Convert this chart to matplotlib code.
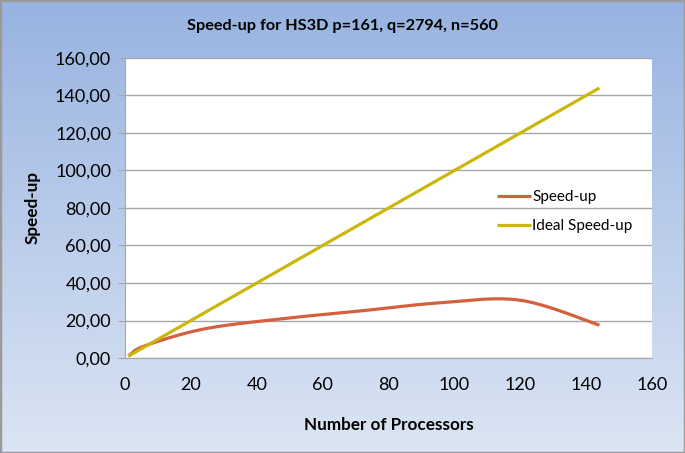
import numpy as np
import matplotlib
matplotlib.use('Agg')
import matplotlib.pyplot as plt
from matplotlib.colors import LinearSegmentedColormap

plt.rcParams['font.family'] = ['Lato', 'DejaVu Sans']

# data
processors = [1, 6, 24, 48, 72, 96, 120, 144]
speedup = [1.0, 6.5, 15.5, 21.0, 25.2, 29.5, 30.8, 17.5]
ideal = [1, 6, 24, 48, 72, 96, 120, 144]
yticks = [0, 20, 40, 60, 80, 100, 120, 140, 160]
xticks = [0, 20, 40, 60, 80, 100, 120, 140, 160]


def smooth(xs, ys, n=40):
    # excel-like smoothed line (catmull-rom as cubic bezier)
    p = np.column_stack([xs, ys]).astype(float)
    out = []
    for i in range(len(p) - 1):
        p0 = p[i - 1] if i > 0 else p[i]
        p1, p2 = p[i], p[i + 1]
        p3 = p[i + 2] if i + 2 < len(p) else p[i + 1]
        c1 = p1 + (p2 - p0) / 6.0
        c2 = p2 - (p3 - p1) / 6.0
        t = np.linspace(0, 1, n)[:, None]
        seg = ((1 - t) ** 3) * p1 + 3 * ((1 - t) ** 2) * t * c1 \
            + 3 * (1 - t) * t ** 2 * c2 + t ** 3 * p2
        out.append(seg if i == 0 else seg[1:])
    out = np.vstack(out)
    return out[:, 0], out[:, 1]


fig = plt.figure(figsize=(6.85, 4.53), dpi=100)

# gradient background
bg = fig.add_axes([0, 0, 1, 1], zorder=0)
cmap = LinearSegmentedColormap.from_list('bg', ['#98b3e1', '#dbe5f3'])
bg.imshow(np.linspace(0, 1, 256)[:, None], aspect='auto', cmap=cmap,
          extent=[0, 1, 0, 1])
bg.set_xlim(0, 1)
bg.set_ylim(0, 1)
for s in bg.spines.values():
    s.set_color('#9a9a9a')
    s.set_linewidth(2.5)
bg.set_xticks([])
bg.set_yticks([])

ax = fig.add_axes([0.1825, 0.2097, 0.952 - 0.1825, 0.872 - 0.2097], zorder=1)
ax.set_facecolor('white')

sx, sy = smooth(processors, speedup)
ax.plot(sx, sy, color='#d4603f', lw=2.3, label='Speed-up', solid_capstyle='butt')
ax.plot(ideal, ideal, color='#cab70a', lw=2.3, label='Ideal Speed-up',
        solid_capstyle='butt')

ax.set_xlim(0, 160)
ax.set_ylim(0, 160)
ax.set_xticks(xticks)
ax.set_yticks(yticks)
ax.set_yticklabels([('%.2f' % v).replace('.', ',') for v in yticks])
ax.grid(axis='y', color='#a6a6a6', lw=1)
ax.set_axisbelow(True)
for side in ['top', 'right']:
    ax.spines[side].set_visible(False)
ax.spines['left'].set_color('#a6a6a6')
ax.spines['bottom'].set_color('#a6a6a6')
ax.tick_params(axis='y', length=5, color='#a6a6a6', labelsize=13, pad=5)
ax.tick_params(axis='x', length=0, labelsize=13, pad=14)

ax.set_xlabel('Number of Processors', fontsize=12.3, fontweight='bold', labelpad=17)
ax.set_ylabel('Speed-up', fontsize=12.3, fontweight='bold', labelpad=10)
fig.text(0.5, 0.943, 'Speed-up for HS3D p=161, q=2794, n=560', ha='center',
         va='center', fontsize=11.7, fontweight='bold')

ax.legend(loc='center left', bbox_to_anchor=(0.68, 0.488), frameon=False,
          fontsize=11, handlelength=2.2, handletextpad=0.1, labelspacing=1.0)

fig.savefig('out.png', dpi=100)
